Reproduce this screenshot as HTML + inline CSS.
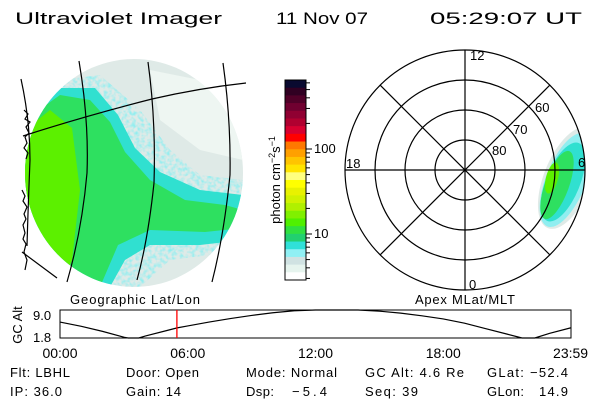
<!DOCTYPE html>
<html><head><meta charset="utf-8"><style>
html,body{margin:0;padding:0;background:#fff;}
svg{display:block;font-family:"Liberation Sans",sans-serif;}
</style></head><body>
<svg id="svg" width="600" height="400" viewBox="0 0 600 400">
<defs>
<clipPath id="disc"><ellipse cx="134" cy="173" rx="109" ry="114"/></clipPath>
<clipPath id="polarclip"><circle cx="465" cy="170" r="120"/></clipPath>
<filter id="grain"><feTurbulence type="fractalNoise" baseFrequency="0.25" numOctaves="2" seed="3"/><feColorMatrix type="matrix" values="0 0 0 0 0  0 0 0 0 0  0 0 0 0 0  0 0 0 -2.2 1.4"/><feComposite in="SourceGraphic" operator="in"/></filter>
</defs>
<text x="15" y="24" font-size="17" textLength="207" lengthAdjust="spacingAndGlyphs">Ultraviolet Imager</text>
<text x="276" y="24" font-size="17" textLength="92" lengthAdjust="spacingAndGlyphs">11 Nov 07</text>
<text x="430" y="24" font-size="17" textLength="152" lengthAdjust="spacingAndGlyphs">05:29:07 UT</text>

<g id="geo">
 <g clip-path="url(#disc)">
  <rect x="20" y="55" width="230" height="240" fill="#dfeae7"/>
  <path d="M150,70 L200,80 L243,120 L243,160 L200,150 L160,120 Z" fill="#eef6f2"/>
  <path d="M25,110 L60,80 L100,75 L140,110 L170,150 L200,175 L243,180 L243,245 L210,255 L170,260 L140,287 L25,287 Z" fill="#90eef0" filter="url(#grain)"/>
  <path d="M25,115 L60,88 L95,88 L118,115 L135,148 L160,172 L200,190 L243,195 L243,240 L200,245 L150,245 L125,260 L110,287 L25,287 Z" fill="#30e0d0"/>
  <path d="M25,120 L60,95 L90,100 L110,122 L125,152 L150,180 L185,200 L225,205 L243,210 L243,228 L205,232 L150,230 L118,245 L100,287 L25,287 Z" fill="#2ee060"/>
  <path d="M25,130 L50,110 L72,128 L80,190 L72,260 L60,287 L25,287 Z" fill="#5cf000"/>
 </g>
 <g fill="none" stroke="#000" stroke-width="1.2">
  <path d="M79,61 Q89,120 87,173 Q82,230 67,282"/>
  <path d="M148,62 Q156,120 154,183 Q148,240 137,280"/>
  <path d="M223,63 Q231,120 230,175 Q224,235 212,282"/>
  <path d="M23,136 Q85,116 152,99 Q200,88 246,83"/>
  <path d="M21,79 Q30,120 30,160 Q28,210 27,246"/>
  <path d="M22,252 L57,278"/>
  <path d="M24,110 l4,4 l-3,5 l5,3 l-4,5 l3,6 l-4,4 l2,6 l-3,5 l4,5 l-2,6 M22,190 l3,6 l-2,5 l4,6 l-3,7 l2,5 l-3,6 l2,8 l-2,6 l3,5 l-2,8 l3,8 l-2,10"/>
 </g>
</g>

<g id="colorbar"></g>
<text transform="translate(280,180) rotate(-90)" text-anchor="middle" font-size="13">photon cm<tspan dy="-5" font-size="9">−2</tspan><tspan dy="5">s</tspan><tspan dy="-5" font-size="9">−1</tspan></text>

<g id="polar">
 <g clip-path="url(#polarclip)">
  <ellipse cx="568" cy="178" rx="24" ry="54" transform="rotate(22 568 178)" fill="#dfeae7"/>
  <ellipse cx="566" cy="180" rx="20" ry="50" transform="rotate(22 566 180)" fill="#90eef0"/>
  <ellipse cx="563" cy="182" rx="17" ry="42" transform="rotate(22 563 182)" fill="#30e0d0"/>
  <ellipse cx="557" cy="185" rx="12" ry="36" transform="rotate(20 557 185)" fill="#2ee060"/>
  <ellipse cx="552" cy="178" rx="6" ry="16" transform="rotate(15 552 178)" fill="#5cf000"/>
 </g>
 <g fill="none" stroke="#000" stroke-width="1.2">
  <circle cx="465" cy="170" r="30"/><circle cx="465" cy="170" r="60"/>
  <circle cx="465" cy="170" r="90"/><circle cx="465" cy="170" r="120"/>
  <line x1="345" y1="170" x2="585" y2="170"/><line x1="465" y1="50" x2="465" y2="290"/>
  <line x1="380.1" y1="85.1" x2="549.9" y2="254.9"/><line x1="380.1" y1="254.9" x2="549.9" y2="85.1"/>
 </g>
 <g font-size="13">
  <text x="470" y="60">12</text><text x="346" y="168">18</text><text x="578" y="167">6</text>
  <text x="469" y="289">0</text><text x="492" y="155">80</text><text x="513" y="134">70</text><text x="535" y="112">60</text>
 </g>
</g>

<text x="70" y="304" font-size="13" textLength="130" lengthAdjust="spacing">Geographic Lat/Lon</text>
<text x="415" y="304" font-size="13" textLength="100" lengthAdjust="spacing">Apex MLat/MLT</text>
<text transform="translate(22,325) rotate(-90)" text-anchor="middle" font-size="13">GC Alt</text>
<text x="33" y="320" font-size="13">9.0</text>
<text x="33" y="342" font-size="13">1.8</text>
<rect x="60" y="310" width="511" height="28" fill="none" stroke="#000"/>
<g id="alt"></g>

<g font-size="13">
 <text x="10" y="377" textLength="60" lengthAdjust="spacing">Flt: LBHL</text><text x="10" y="396" textLength="52" lengthAdjust="spacing">IP: 36.0</text>
 <text x="126" y="377" textLength="73" lengthAdjust="spacing">Door: Open</text><text x="126" y="396" textLength="55" lengthAdjust="spacing">Gain: 14</text>
 <text x="246" y="377" textLength="91" lengthAdjust="spacing">Mode: Normal</text><text x="246" y="396" textLength="28" lengthAdjust="spacing">Dsp:</text><text x="292" y="396" textLength="35" lengthAdjust="spacing">−5.4</text>
 <text x="365" y="377" textLength="99" lengthAdjust="spacing">GC Alt: 4.6 Re</text><text x="365" y="396" textLength="53" lengthAdjust="spacing">Seq: 39</text>
 <text x="487" y="377" textLength="81" lengthAdjust="spacing">GLat: −52.4</text><text x="487" y="396" textLength="37" lengthAdjust="spacing">GLon:</text><text x="539" y="396" textLength="29" lengthAdjust="spacing">14.9</text>
</g>
</svg>
<script>
const hours=[0,1,2,3,3.2,3.7,4,5,5.5,6,7,8,9,10,11,12,13,14,15,16,17,18,19,20,21,21.7,22.3,23,23.98];
const alts=[5.9,4.8,3.5,2.0,1.8,1.8,2.3,3.7,4.4,4.9,5.9,6.8,7.6,8.3,8.8,9.0,9.0,9.0,8.7,8.2,7.5,6.7,5.6,4.2,2.8,1.8,1.8,3.0,4.4];
const currentHour=5.49;
const timeTicks=[0,6,12,18,23.98];
const timeLabels=["00:00","06:00","12:00","18:00","23:59"];
const cbColors=["#0a0a30","#300022","#500028","#700030","#900032","#b00030","#d80030","#ff0000","#ff7800","#ffa000","#ffc400","#ffe400","#ffff80","#ffff00","#e8f200","#d0f200","#b0f000","#80f000","#50f000","#30e040","#22d070","#30e0d8","#90f0f4","#d0e2e2","#e6f4ee","#ffffff"];
const cbTickVals=[3,4,5,6,7,8,9,10,20,30,40,50,60,70,80,90,100,200,300,400,500,600];
const cbLabels=[10,100];
const NS="http://www.w3.org/2000/svg";
function mk(tag,attrs,parent){const e=document.createElementNS(NS,tag);for(const k in attrs)e.setAttribute(k,attrs[k]);parent.appendChild(e);return e;}
// altitude panel
const xS=h=>60+h/24*511, yS=a=>338-(a-1.8)/(9-1.8)*28;
const ga=document.getElementById('alt');
const line=mk('polyline',{points:hours.map((h,i)=>xS(h)+','+yS(alts[i])).join(' '),fill:'none',stroke:'#000','stroke-width':1.2},ga);


const red=mk('line',{x1:xS(currentHour),x2:xS(currentHour),y1:310,y2:338,stroke:'#f00','stroke-width':1.3},ga);


timeTicks.forEach((t,i)=>{const tx=mk('text',{x:xS(t),y:358,'font-size':14,'text-anchor':'middle'},ga);tx.textContent=timeLabels[i];

});
// colorbar
const cbEl=document.getElementById('colorbar');
const cbTop=80,cbBot=280,bh=(cbBot-cbTop)/cbColors.length;
cbColors.forEach((c,i)=>{const r=mk('rect',{x:285,y:cbTop+i*bh,width:21,height:bh+0.5,fill:c},cbEl);

});
mk('rect',{x:285,y:cbTop,width:21,height:cbBot-cbTop,fill:'none',stroke:'#000'},cbEl);
const cbY=v=>234-(Math.log10(v)-1)*85;
cbTickVals.forEach(v=>{const yy=cbY(v);if(yy<cbTop||yy>cbBot)return;const major=cbLabels.includes(v);
mk('line',{x1:306,x2:major?312:310,y1:yy,y2:yy,stroke:'#000'},cbEl);});
cbLabels.forEach(v=>{const t=mk('text',{x:314,y:cbY(v)+4,'font-size':13},cbEl);t.textContent=v;

});
</script>
</body></html>
